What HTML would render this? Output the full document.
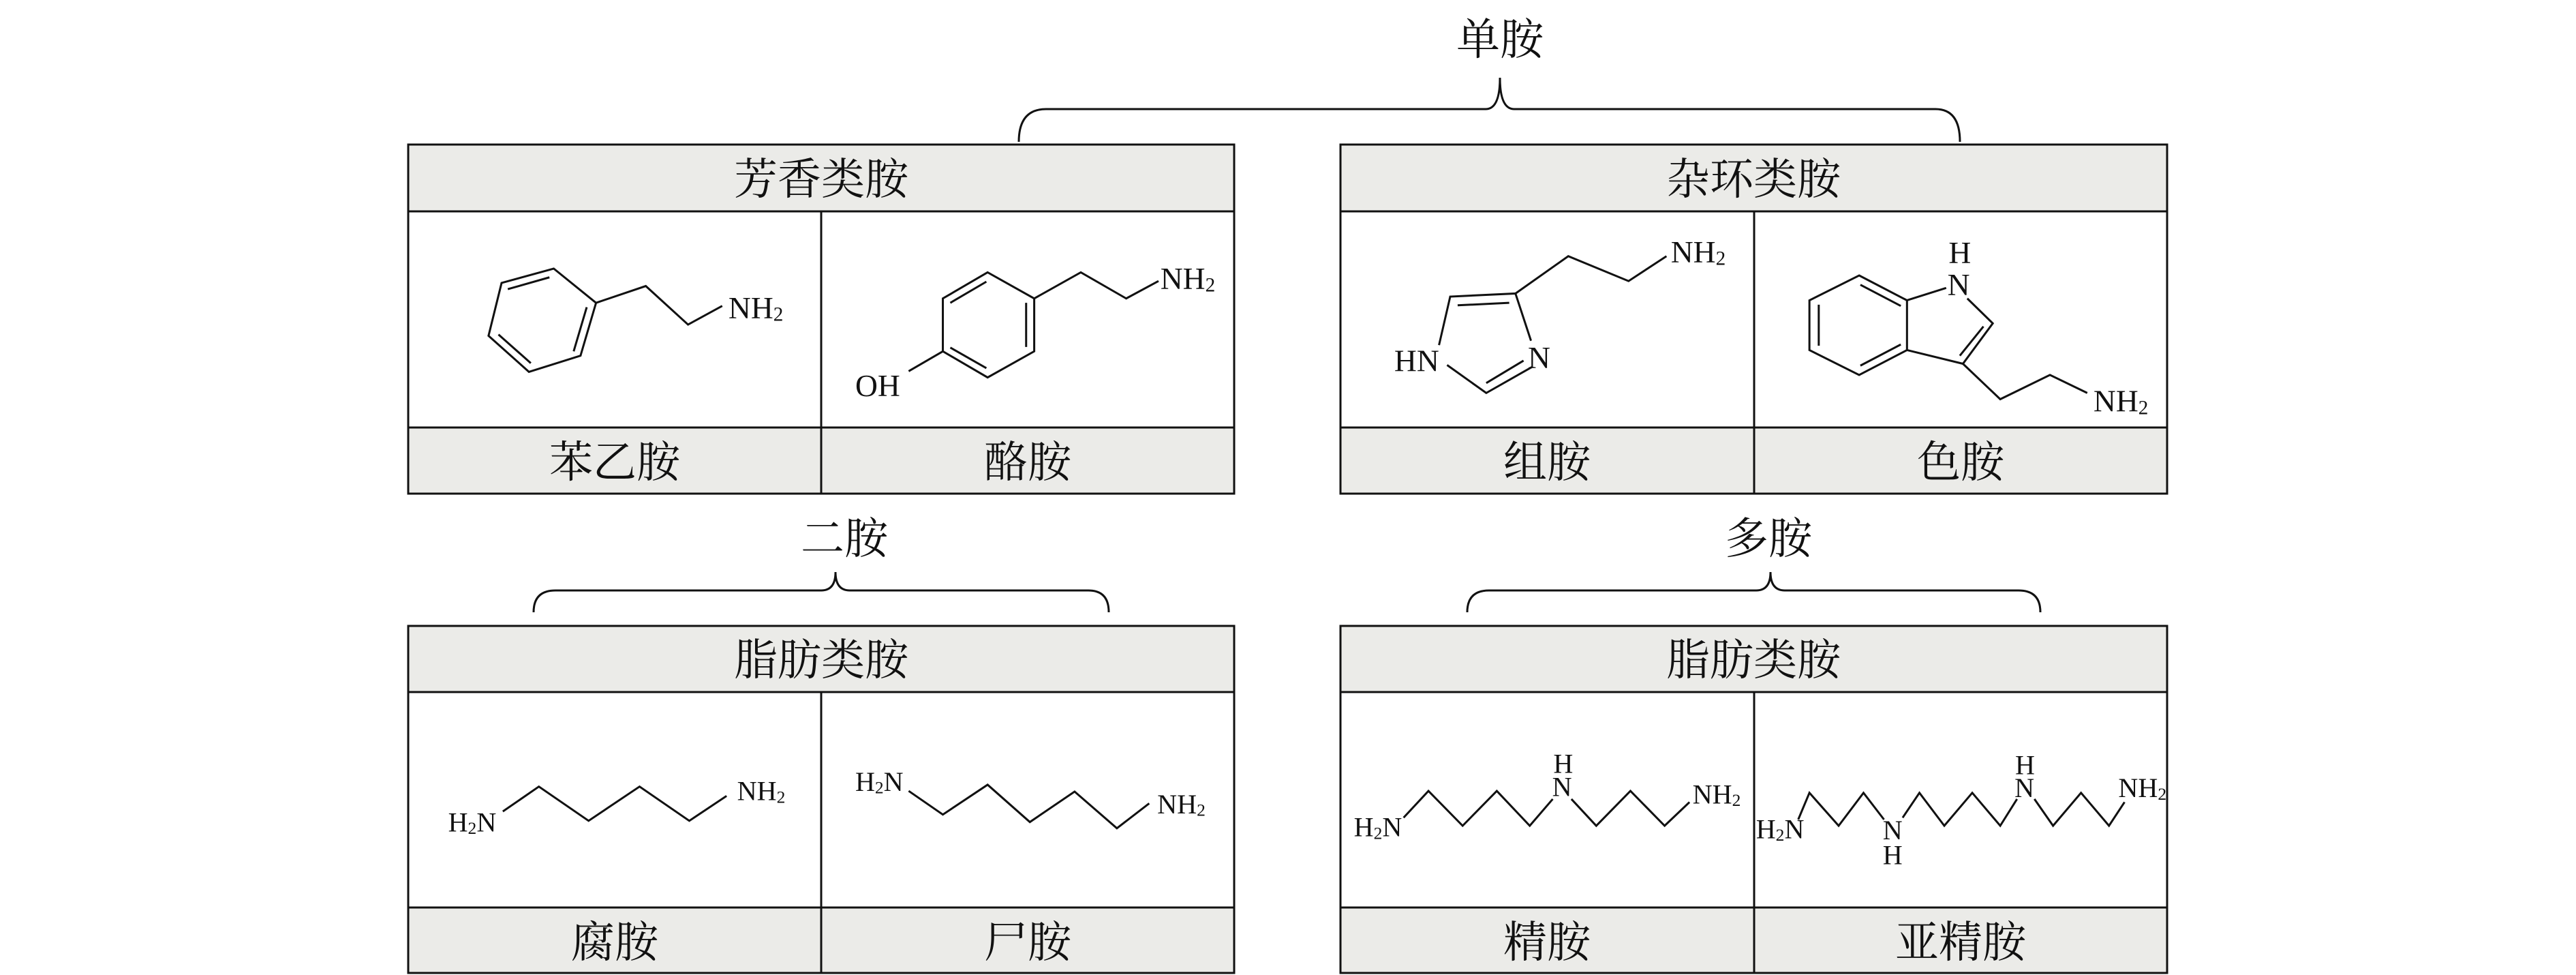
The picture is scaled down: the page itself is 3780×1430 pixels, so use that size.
<!DOCTYPE html>
<html><head><meta charset="utf-8">
<style>
html,body{margin:0;padding:0;background:#fff;}
svg{display:block;}
.cn{font-family:"Liberation Serif","Noto Serif CJK SC","Noto Sans CJK SC",serif;}
.ch{font-family:"Liberation Serif",serif;}
</style></head>
<body>
<svg width="3780" height="1430" viewBox="0 0 3780 1430" xmlns="http://www.w3.org/2000/svg">
<rect width="3780" height="1430" fill="#fff"/>
<!-- braces -->
<g fill="none" stroke="#111" stroke-width="3">
<path d="M1495,208 Q1495,160 1535,160 L2180,160 Q2201,160 2201,114 Q2201,160 2222,160 L2840,160 Q2876,160 2876,208"/>
<path d="M783,898 Q783,866 815,866 L1205,866 Q1226,866 1226,839 Q1226,866 1247,866 L1597,866 Q1627,866 1627,898"/>
<path d="M2153,898 Q2153,866 2185,866 L2577,866 Q2598,866 2598,839 Q2598,866 2619,866 L2962,866 Q2994,866 2994,898"/>
</g>
<g class="cn" font-size="64" text-anchor="middle" fill="#111">
<text x="2201" y="80">单胺</text>
<text x="1239" y="812">二胺</text>
<text x="2595" y="812">多胺</text>
</g>
<!-- tables -->
<g stroke="#111" stroke-width="3" fill="#ebebe8">
<rect x="599" y="212" width="1212" height="98"/>
<rect x="599" y="627" width="1212" height="97"/>
<rect x="599" y="310" width="1212" height="317" fill="#fff"/>
<line x1="1205" y1="310" x2="1205" y2="724"/>
<rect x="1967" y="212" width="1213" height="98"/>
<rect x="1967" y="627" width="1213" height="97"/>
<rect x="1967" y="310" width="1213" height="317" fill="#fff"/>
<line x1="2574" y1="310" x2="2574" y2="724"/>
<rect x="599" y="918" width="1212" height="97"/>
<rect x="599" y="1331" width="1212" height="96"/>
<rect x="599" y="1015" width="1212" height="316" fill="#fff"/>
<line x1="1205" y1="1015" x2="1205" y2="1427"/>
<rect x="1967" y="918" width="1213" height="97"/>
<rect x="1967" y="1331" width="1213" height="96"/>
<rect x="1967" y="1015" width="1213" height="316" fill="#fff"/>
<line x1="2574" y1="1015" x2="2574" y2="1427"/>
</g>
<g class="cn" font-size="64" text-anchor="middle" fill="#111">
<text x="1205" y="285">芳香类胺</text>
<text x="2573" y="285">杂环类胺</text>
<text x="902" y="700">苯乙胺</text>
<text x="1508" y="700">酪胺</text>
<text x="2270" y="700">组胺</text>
<text x="2877" y="700">色胺</text>
<text x="1205" y="990">脂肪类胺</text>
<text x="2573" y="990">脂肪类胺</text>
<text x="902" y="1404">腐胺</text>
<text x="1508" y="1404">尸胺</text>
<text x="2270" y="1404">精胺</text>
<text x="2877" y="1404">亚精胺</text>
</g>
<!-- left molecules (zoom coords) -->
<g transform="translate(560,0) scale(0.912)">
<g fill="none" stroke="#111" stroke-width="3.3">
<polygon points="277,432 193,455 172,540 237,598 320,572 345,487"/>
<line x1="270" y1="446" x2="203" y2="465"/>
<line x1="188" y1="538" x2="240" y2="584"/>
<line x1="309" y1="565" x2="330" y2="494"/>
<polyline points="345,487 425,460 493,522 548,492"/>
<polygon points="975,438 903,480 903,565 975,607 1050,565 1050,480"/>
<line x1="973" y1="453" x2="915" y2="487"/>
<line x1="915" y1="559" x2="973" y2="592"/>
<line x1="1037" y1="487" x2="1037" y2="558"/>
<polyline points="1050,480 1125,438 1198,480 1250,452"/>
<line x1="903" y1="565" x2="848" y2="597"/>
<polyline points="195,1305 253,1265 333,1320 415,1265 495,1320 555,1280"/>
<polyline points="848,1272 903,1310 975,1262 1043,1322 1115,1273 1183,1332 1235,1292"/>
</g>
<g class="ch" font-size="50" fill="#111">
<text x="558" y="512">NH<tspan font-size="32" dy="4">2</tspan></text>
<text x="1253" y="465">NH<tspan font-size="32" dy="4">2</tspan></text>
<text x="762" y="637">OH</text>
<text x="107" y="1337" font-size="44">H<tspan font-size="28" dy="4">2</tspan><tspan dy="-4">N</tspan></text>
<text x="572" y="1287" font-size="44">NH<tspan font-size="28" dy="4">2</tspan></text>
<text x="762" y="1272" font-size="44">H<tspan font-size="28" dy="4">2</tspan><tspan dy="-4">N</tspan></text>
<text x="1248" y="1308" font-size="44">NH<tspan font-size="28" dy="4">2</tspan></text>
</g>
</g>
<!-- right molecules -->
<g transform="translate(1900,0) scale(0.912)">
<g fill="none" stroke="#111" stroke-width="3.3">
<polyline points="232,555 250,477 355,472 380,548"/>
<line x1="262" y1="491" x2="345" y2="487"/>
<polyline points="245,587 308,632 382,590"/>
<line x1="308" y1="616" x2="368" y2="580"/>
<polyline points="355,472 440,412 537,452 598,412"/>
<polygon points="908,443 985,483 985,563 908,603 828,563 828,483"/>
<line x1="910" y1="458" x2="975" y2="492"/>
<line x1="975" y1="554" x2="910" y2="588"/>
<line x1="843" y1="490" x2="843" y2="556"/>
<polyline points="985,483 1048,463"/>
<polyline points="1082,480 1123,520 1075,585 985,563"/>
<line x1="1108" y1="525" x2="1070" y2="572"/>
<polyline points="1075,585 1135,642 1215,603 1275,632"/>
<polyline points="175,1315 215,1272 270,1328 325,1272 378,1328 415,1285"/>
<polyline points="445,1285 485,1328 540,1272 595,1328 635,1290"/>
<polyline points="810,1318 828,1275 875,1328 915,1275 948,1318"/>
<polyline points="978,1315 1005,1275 1045,1328 1090,1275 1135,1328 1162,1285"/>
<polyline points="1190,1285 1220,1328 1265,1275 1310,1328 1335,1290"/>
</g>
<g class="ch" font-size="50" fill="#111">
<text x="605" y="422">NH<tspan font-size="32" dy="4">2</tspan></text>
<text x="160" y="597">HN</text>
<text x="375" y="592">N</text>
<text x="1052" y="423">H</text>
<text x="1050" y="475">N</text>
<text x="1285" y="662">NH<tspan font-size="32" dy="4">2</tspan></text>
<g font-size="44">
<text x="95" y="1345">H<tspan font-size="28" dy="4">2</tspan><tspan dy="-4">N</tspan></text>
<text x="416" y="1243">H</text>
<text x="414" y="1280">N</text>
<text x="640" y="1292">NH<tspan font-size="28" dy="4">2</tspan></text>
<text x="742" y="1348">H<tspan font-size="28" dy="4">2</tspan><tspan dy="-4">N</tspan></text>
<text x="946" y="1350">N</text>
<text x="946" y="1390">H</text>
<text x="1159" y="1245">H</text>
<text x="1158" y="1282">N</text>
<text x="1325" y="1282">NH<tspan font-size="28" dy="4">2</tspan></text>
</g>
</g>
</g>
</svg>
</body></html>
